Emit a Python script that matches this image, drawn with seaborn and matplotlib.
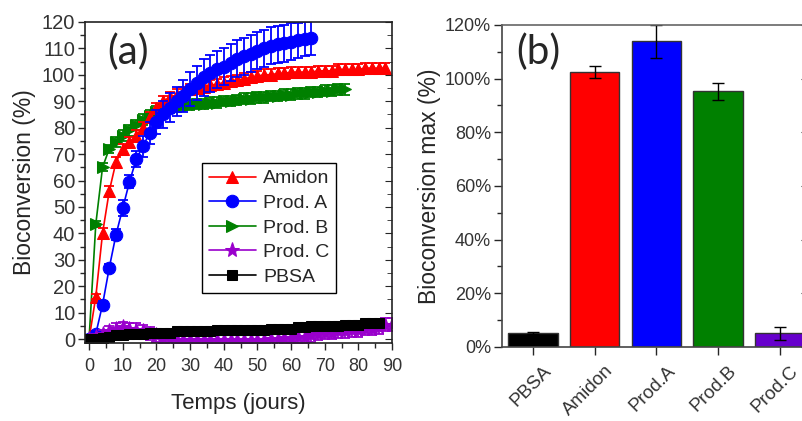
import numpy as np
import pandas as pd
import matplotlib
matplotlib.use("Agg")
import matplotlib.pyplot as plt
import matplotlib.transforms as mtransforms
import seaborn as sns
from matplotlib.ticker import MultipleLocator, PercentFormatter

# %%
# panel (a) : bioconversion vs time (one point every 2 days)
days_amidon = [0, 2, 4, 6, 8, 10, 12, 14, 16, 18, 20, 22, 24, 26, 28, 30, 32, 34, 36, 38, 40, 42, 44,
               46, 48, 50, 52, 54, 56, 58, 60, 62, 64, 66, 68, 70, 72, 74, 76, 78, 80, 82, 84, 86, 88]
amidon = [0, 16, 40, 56, 67, 72, 74.5, 77, 80, 84, 87.5, 90, 91.5, 92.5, 93.5, 94.5, 95, 95.5, 96, 96.5,
          97, 97.5, 98, 98.5, 99, 99.5, 100, 100, 100.5, 100.5, 101, 101, 101, 101, 101.5, 101.5, 101.5,
          102, 102, 102, 102, 102.5, 102.5, 102.5, 102.5]
amidon_err = [0, 1, 2, 2, 2, 2, 2, 2, 2, 2, 2, 2, 2, 2, 2, 2, 2, 2, 2, 2, 2, 2, 2, 2, 2, 2, 2, 2, 2, 2,
              2, 2, 2, 2, 2, 2, 2, 2, 2, 2, 2, 2, 2, 2, 2]

days_a = [0, 2, 4, 6, 8, 10, 12, 14, 16, 18, 20, 22, 24, 26, 28, 30, 32, 34, 36, 38, 40, 42, 44,
          46, 48, 50, 52, 54, 56, 58, 60, 62, 64, 66]
prod_a = [0, 2, 13, 27, 39.5, 49.5, 59.5, 68, 73, 78, 82, 85, 87.5, 90, 92, 94.5, 97, 99, 100.5, 102,
          103, 104.5, 106, 107, 108, 109, 110, 111, 111.5, 112, 112.5, 113, 113.5, 114]
prod_a_err = [0, 1, 1.5, 1.5, 2, 3, 2.5, 3, 4, 4, 4.5, 5, 5.5, 5.5, 6, 6.5, 6.5, 7, 7, 7, 7, 7, 7, 7,
              7, 7, 7, 7, 7, 7, 7, 6.5, 6.5, 6.5]

days_b = [0, 2, 4, 6, 8, 10, 12, 14, 16, 18, 20, 22, 24, 26, 28, 30, 32, 34, 36, 38, 40, 42, 44,
          46, 48, 50, 52, 54, 56, 58, 60, 62, 64, 66, 68, 70, 72, 74, 76]
prod_b = [0, 43.5, 65, 72, 74.5, 77, 79, 81, 83, 84.5, 86, 87, 87.5, 88, 88.5, 88.5, 89, 89, 89.5, 89.5,
          90, 90, 90.5, 91, 91, 91.5, 91.5, 92, 92, 92.5, 92.5, 93, 93, 93.5, 93.5, 94, 94, 94.5, 94.5]
prod_b_err = [0, 1, 1.5, 1.5, 2, 2, 2, 2, 2, 2, 2, 2, 2, 2, 2, 2, 2, 2, 2, 2, 2, 2, 2, 2, 2, 2, 2, 2,
              2, 2, 2, 2, 2, 2, 2, 2, 2, 2, 2]

days_c = [0, 2, 4, 6, 8, 10, 12, 14, 16, 18, 20, 22, 24, 26, 28, 30, 32, 34, 36, 38, 40, 42, 44,
          46, 48, 50, 52, 54, 56, 58, 60, 62, 64, 66, 68, 70, 72, 74, 76, 78, 80, 82, 84, 86, 88, 90]
prod_c = [0, 1, 2, 3, 4, 4.5, 4, 3.5, 3, 2, 1.5, 0.5, 0, -0.3, -0.3, -0.3, -0.3, -0.3, -0.3, -0.3,
          -0.3, -0.3, -0.3, -0.3, -0.3, -0.3, -0.3, 0, 0, 0.5, 0.5, 1, 1, 1.5, 2, 2.5, 2.5, 3, 3,
          3.5, 3.5, 4, 4, 4.5, 5.5, 5.5]
prod_c_err = [0, 1, 1.5, 2, 2, 2, 2, 2.5, 2.5, 2.5, 2.5, 2.5, 2.5, 2.5, 2.5, 2.5, 2.5, 2.5, 2.5, 2.5,
              2.5, 2.5, 2.5, 2.5, 2.5, 2.5, 2.5, 2.5, 2.5, 2.5, 2.5, 2.5, 2.5, 2.5, 2.5, 2.5, 2.5,
              2.5, 2.5, 2.5, 2.5, 2.5, 2.5, 2.5, 2.5, 2.5]

days_pbsa = [0, 2, 4, 6, 8, 10, 12, 14, 16, 18, 20, 22, 24, 26, 28, 30, 32, 34, 36, 38, 40, 42, 44,
             46, 48, 50, 52, 54, 56, 58, 60, 62, 64, 66, 68, 70, 72, 74, 76, 78, 80, 82, 84, 86]
pbsa = [0, 0, 0.5, 1, 1.5, 1.5, 2, 2, 2, 2.5, 2.5, 2.5, 2.5, 3, 3, 3, 3, 3, 3, 3.5, 3.5, 3.5, 3.5,
        3.5, 3.5, 3.5, 3.5, 4, 4, 4, 4, 4.5, 4.5, 5, 5, 5, 5, 5, 5.5, 5.5, 5.5, 6, 6, 6]

# panel (b) : max bioconversion
categories = ["PBSA", "Amidon", "Prod.A", "Prod.B", "Prod.C"]
bio_max = [5.2, 102.3, 113.8, 95.2, 5.1]
bio_max_err = [0.4, 2.2, 6.1, 3.1, 2.4]
bar_colors = ["#000000", "#ff0000", "#0000ff", "#008000", "#6600cc"]

# %%
sns.set_style("ticks")
plt.rcParams["font.family"] = ["Liberation Sans", "DejaVu Sans"]

fig = plt.figure(figsize=(8.02, 4.21), dpi=100)
ax1 = fig.add_axes([0.106, 0.185, 0.383, 0.763])
ax2 = fig.add_axes([0.626, 0.176, 0.377, 0.765])

tick_col = "#333333"

series = [
    ("Prod. B", days_b, prod_b, prod_b_err, "#008000", ">", 9),
    ("Amidon", days_amidon, amidon, amidon_err, "#ff0000", "^", 9),
    ("Prod. A", days_a, prod_a, prod_a_err, "#0000ff", "o", 9),
    ("Prod. C", days_c, prod_c, prod_c_err, "#9900cc", "*", 11),
    ("PBSA", days_pbsa, pbsa, None, "#000000", "s", 7),
]

handles = {}
for name, d, v, e, col, mk, ms in series:
    df = pd.DataFrame({"Jour": d, "Val": v})
    if e is not None:
        ax1.errorbar(d, v, yerr=e, fmt="none", ecolor=col, elinewidth=1.3, capsize=3.5, capthick=1.3)
    sns.lineplot(data=df, x="Jour", y="Val", ax=ax1, color=col, marker=mk, markersize=ms,
                 markeredgecolor=col, linewidth=1.2, label=name)
    handles[name] = ax1.lines[-1]

order = ["Amidon", "Prod. A", "Prod. B", "Prod. C", "PBSA"]
ax1.legend([handles[n] for n in order], order, loc="upper left", bbox_to_anchor=(0.381, 0.561),
           borderaxespad=0, fontsize=14, handlelength=2.4, labelspacing=0.36, frameon=True,
           fancybox=False, edgecolor="black", framealpha=1, handletextpad=0.4, borderpad=0.35)

ax1.set_xlim(-1.2, 90)
ax1.set_ylim(-1.5, 120)
ax1.xaxis.set_major_locator(MultipleLocator(10))
ax1.xaxis.set_minor_locator(MultipleLocator(5))
ax1.yaxis.set_major_locator(MultipleLocator(10))
ax1.yaxis.set_minor_locator(MultipleLocator(5))
ax1.tick_params(axis="both", which="major", direction="out", length=5, width=1,
                labelcolor=tick_col, pad=2)
ax1.tick_params(axis="y", which="major", labelsize=14.5)
ax1.tick_params(axis="x", which="major", labelsize=13, pad=6)
ax1.tick_params(axis="both", which="minor", direction="out", length=3.5, width=1)
sec1 = ax1.secondary_yaxis("right")
sec1.yaxis.set_major_locator(MultipleLocator(10))
sec1.yaxis.set_minor_locator(MultipleLocator(5))
sec1.tick_params(which="major", direction="in", length=5, labelright=False)
sec1.tick_params(which="minor", direction="in", length=3.5)
for s in ax1.spines.values():
    s.set_color("#222222")
    s.set_linewidth(1.2)
sec1.spines["right"].set_visible(False)
ax1.set_xlabel("Temps (jours)", fontsize=16, labelpad=13)
ax1.set_ylabel("Bioconversion (%)", fontsize=16.5, labelpad=4)
ax1.text(0.14, 0.905, "(a)", transform=ax1.transAxes, fontsize=29, family="Lato",
         ha="center", va="center")

# %%
bar_df = pd.DataFrame({"Cat": categories, "Max": bio_max})
sns.barplot(data=bar_df, x="Cat", y="Max", hue="Cat", palette=bar_colors, saturation=1,
            legend=False, width=0.8, edgecolor="#333333", linewidth=1, ax=ax2)
ax2.errorbar(np.arange(len(categories)), bio_max, yerr=bio_max_err, fmt="none", ecolor="black",
             elinewidth=1, capsize=4, capthick=1)
ax2.set_xlim(-0.5, 4.4)
ax2.set_ylim(0, 120)
ax2.yaxis.set_major_locator(MultipleLocator(20))
ax2.yaxis.set_minor_locator(MultipleLocator(10))
ax2.yaxis.set_major_formatter(PercentFormatter(decimals=0))
ax2.tick_params(axis="y", which="major", direction="out", length=6, width=1,
                labelsize=13, labelcolor=tick_col, pad=2)
ax2.tick_params(axis="y", which="minor", direction="out", length=3.5, width=1)
ax2.tick_params(axis="x", direction="out", length=6, width=1, labelsize=13.5, labelcolor=tick_col, pad=5)
shift = mtransforms.ScaledTranslation(0.1, 0, fig.dpi_scale_trans)
for lab in ax2.get_xticklabels():
    lab.set_rotation(45)
    lab.set_ha("right")
    lab.set_va("top")
    lab.set_rotation_mode("anchor")
    lab.set_transform(lab.get_transform() + shift)
sec2 = ax2.secondary_yaxis("right")
sec2.yaxis.set_major_locator(MultipleLocator(20))
sec2.tick_params(direction="in", length=2, labelright=False)
sec2.spines["right"].set_visible(False)
for s in ax2.spines.values():
    s.set_color("#444444")
    s.set_linewidth(1.2)
ax2.spines["top"].set_color("#666666")
ax2.set_xlabel("")
ax2.set_ylabel("Bioconversion max (%)", fontsize=16.5, labelpad=3)
ax2.text(0.12, 0.915, "(b)", transform=ax2.transAxes, fontsize=29, family="Lato",
         ha="center", va="center")

fig.savefig("out.png", dpi=100)
